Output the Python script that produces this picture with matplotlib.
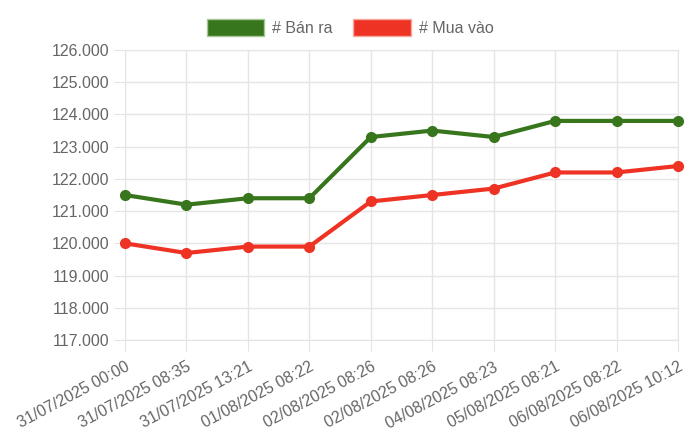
import matplotlib
matplotlib.use('Agg')
import matplotlib.pyplot as plt
from matplotlib.patches import Patch
from matplotlib.ticker import FuncFormatter

labels = ['31/07/2025 00:00', '31/07/2025 08:35', '31/07/2025 13:21',
          '01/08/2025 08:22', '02/08/2025 08:26', '02/08/2025 08:26',
          '04/08/2025 08:23', '05/08/2025 08:21', '06/08/2025 08:22',
          '06/08/2025 10:12']
ban_ra = [121500, 121200, 121400, 121400, 123300, 123500, 123300, 123800, 123800, 123800]
mua_vao = [120000, 119700, 119900, 119900, 121300, 121500, 121700, 122200, 122200, 122400]
y_ticks = list(range(117000, 126001, 1000))

GREEN = '#38761d'
RED = '#ee3324'
TEXT = '#666666'
GRID = '#e5e5e5'

plt.rcParams['font.family'] = ['Liberation Sans', 'DejaVu Sans']

fig = plt.figure(figsize=(7, 4.38), dpi=100)
ax = fig.add_axes([0.1786, 0.2237, 0.79, 0.6621])

x = range(len(labels))
ax.plot(x, ban_ra, color=GREEN, lw=3, marker='o', ms=7, zorder=3, clip_on=False)
ax.plot(x, mua_vao, color=RED, lw=3, marker='o', ms=7, zorder=3, clip_on=False)

ax.set_xlim(0, len(labels) - 1)
ax.set_ylim(117000, 126000)
ax.set_yticks(y_ticks)
ax.yaxis.set_major_formatter(FuncFormatter(lambda v, p: f'{int(v):,}'.replace(',', '.')))
ax.set_xticks(list(x))
ax.set_xticklabels(labels, rotation=28, ha='right', rotation_mode='anchor')

ax.grid(True, color=GRID, lw=1)
ax.set_axisbelow(True)
for s in ax.spines.values():
    s.set_color(GRID)
ax.tick_params(axis='both', colors=GRID, length=8, labelcolor=TEXT, labelsize=11.5)
ax.tick_params(axis='x', pad=6)

handles = [Patch(facecolor=GREEN, edgecolor='#a8c89a', label='# Bán ra'),
           Patch(facecolor=RED, edgecolor='#f5a9a0', label='# Mua vào')]
leg = fig.legend(handles=handles, loc='upper center', bbox_to_anchor=(0.5, 0.99), ncol=2,
                 frameon=False, fontsize=11.5, handlelength=3.6, handleheight=1.3,
                 handletextpad=0.5, columnspacing=1.3)
for t in leg.get_texts():
    t.set_color(TEXT)

fig.savefig('out.png', dpi=100)
